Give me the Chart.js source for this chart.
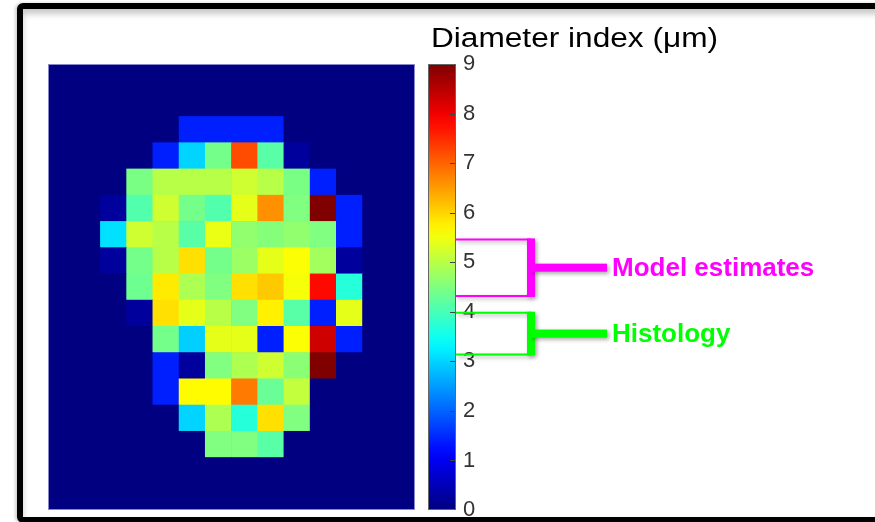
<!DOCTYPE html>
<html>
<head>
<meta charset="utf-8">
<title>Diameter index map</title>
<script src="https://cdn.jsdelivr.net/npm/chart.js@4.4.0/dist/chart.umd.min.js"></script>
<style>
  html, body { margin: 0; padding: 0; background: #fff; }
  #stage { position: relative; width: 875px; height: 522px; overflow: hidden; background: #fff; }
  #mapBox { position: absolute; left: 48px; top: 64px; width: 367px; height: 446px; }
  #barBox { position: absolute; left: 0; top: 0; width: 875px; height: 522px; }
  #frame {
    position: absolute; left: 17px; top: 3px; width: 880px; height: 520px;
    box-sizing: border-box; border: 6px solid #000; border-radius: 6px;
    box-shadow: inset 0 5px 6px rgba(0, 0, 0, 0.22), -2px 0 3px rgba(0, 0, 0, 0.18);
    pointer-events: none;
  }
</style>
</head>
<body>
<div id="stage">
  <div id="mapBox"><canvas id="mapChart"></canvas></div>
  <div id="barBox"><canvas id="barChart"></canvas></div>
  <div id="frame"></div>
</div>
<script>
const COLOR_MIN = 0;
const COLOR_MAX = 9;
const colorbarTicks = [0, 1, 2, 3, 4, 5, 6, 7, 8, 9];
const colorbarTitle = 'Diameter index (μm)';

const columnLabels = ['1', '2', '3', '4', '5', '6', '7', '8', '9', '10', '11', '12', '13', '14'];

// diameter index per pixel, top row first
const diameterRows = [
  [0, 0, 0, 0, 0, 0, 0, 0, 0, 0, 0, 0, 0, 0],
  [0, 0, 0, 0, 0, 0, 0, 0, 0, 0, 0, 0, 0, 0],
  [0, 0, 0, 0, 0, 1.4, 1.4, 1.4, 1.4, 0, 0, 0, 0, 0],
  [0, 0, 0, 0, 1.4, 3.0, 4.4, 7.2, 4.15, 0.25, 0, 0, 0, 0],
  [0, 0, 0, 4.45, 5.0, 5.0, 5.0, 5.2, 5.0, 4.45, 1.4, 0, 0, 0],
  [0, 0, 0.25, 4.1, 5.2, 4.4, 4.1, 5.4, 6.6, 4.5, 9.0, 1.4, 0, 0],
  [0, 0, 3.1, 5.2, 5.0, 4.15, 5.45, 4.65, 4.55, 4.65, 4.5, 1.4, 0, 0],
  [0, 0, 0.25, 4.4, 5.0, 5.9, 4.4, 4.75, 5.4, 5.6, 4.8, 0.25, 0, 0],
  [0, 0, 0, 4.35, 5.8, 4.9, 4.5, 5.9, 6.1, 5.55, 7.8, 3.7, 0, 0],
  [0, 0, 0, 0.25, 5.9, 5.4, 5.0, 4.5, 5.75, 4.15, 1.4, 5.4, 0, 0],
  [0, 0, 0, 0, 4.4, 2.95, 5.4, 5.4, 1.4, 5.6, 8.3, 1.4, 0, 0],
  [0, 0, 0, 0, 1.4, 0.25, 4.5, 4.9, 5.2, 4.6, 9.0, 0, 0, 0],
  [0, 0, 0, 0, 1.4, 5.65, 5.65, 6.8, 4.3, 5.1, 0, 0, 0, 0],
  [0, 0, 0, 0, 0, 3.0, 4.9, 3.7, 5.9, 4.5, 0, 0, 0, 0],
  [0, 0, 0, 0, 0, 0, 4.5, 4.5, 4.15, 0, 0, 0, 0, 0],
  [0, 0, 0, 0, 0, 0, 0, 0, 0, 0, 0, 0, 0, 0],
  [0, 0, 0, 0, 0, 0, 0, 0, 0, 0, 0, 0, 0, 0],
];

const bracketLabels = ['Model estimates', 'Histology'];
const bracketRanges = [[4.32, 5.46], [3.14, 3.98]];
const bracketColors = ['#ff00ff', '#00ff00'];

function jet(value) {
  const t = Math.min(1, Math.max(0, (value - COLOR_MIN) / (COLOR_MAX - COLOR_MIN)));
  const channel = center => Math.round(255 * Math.min(1, Math.max(0, 1.5 - Math.abs(4 * t - center))));
  return `rgb(${channel(3)}, ${channel(2)}, ${channel(1)})`;
}

const mapFrame = {
  id: 'mapFrame',
  beforeDatasetsDraw(chart) {
    const { ctx, chartArea: a } = chart;
    ctx.save();
    ctx.fillStyle = jet(COLOR_MIN);
    ctx.fillRect(a.left, a.top, a.width, a.height);
    ctx.restore();
  },
  afterDraw(chart) {
    const { ctx, chartArea: a } = chart;
    ctx.save();
    ctx.strokeStyle = 'rgba(150, 150, 215, 0.9)';
    ctx.lineWidth = 1;
    ctx.strokeRect(a.left + 0.5, a.top + 0.5, a.width - 1, a.height - 1);
    ctx.restore();
  },
};

const colorbarDecor = {
  id: 'colorbarDecor',
  afterDatasetsDraw(chart) {
    const { ctx, chartArea: a, scales } = chart;
    const y = scales.y;
    ctx.save();

    // inner tick marks on the right edge
    ctx.strokeStyle = '#444';
    ctx.lineWidth = 1;
    colorbarTicks.forEach(v => {
      if (v === COLOR_MIN || v === COLOR_MAX) return;
      const py = Math.round(y.getPixelForValue(v)) + 0.5;
      ctx.beginPath();
      ctx.moveTo(a.right - 6, py);
      ctx.lineTo(a.right, py);
      ctx.stroke();
    });

    ctx.strokeStyle = '#666';
    ctx.strokeRect(a.left + 0.5, a.top + 0.5, a.width - 1, a.height - 1);

    // title
    ctx.fillStyle = '#000';
    ctx.font = '27px "Liberation Sans", Arial, sans-serif';
    ctx.textBaseline = 'alphabetic';
    ctx.textAlign = 'left';
    const w = ctx.measureText(colorbarTitle).width;
    ctx.translate(a.left + 3, a.top - 17);
    ctx.scale(287 / w, 1);
    ctx.fillText(colorbarTitle, 0, 0);
    ctx.restore();

    // brackets
    bracketLabels.forEach((label, i) => {
      const [lo, hi] = bracketRanges[i];
      const yTop = y.getPixelForValue(hi);
      const yBot = y.getPixelForValue(lo);
      const mid = (yTop + yBot) / 2;
      const color = bracketColors[i];
      ctx.save();
      ctx.shadowColor = 'rgba(0, 0, 0, 0.35)';
      ctx.shadowBlur = 4;
      ctx.shadowOffsetX = 2;
      ctx.shadowOffsetY = 2;
      ctx.strokeStyle = color;
      ctx.fillStyle = color;
      ctx.lineWidth = 2;
      ctx.beginPath();
      ctx.moveTo(a.right, yTop);
      ctx.lineTo(a.right + 75, yTop);
      ctx.moveTo(a.right, yBot);
      ctx.lineTo(a.right + 75, yBot);
      ctx.stroke();
      ctx.fillRect(a.right + 71, yTop - 1, 8, yBot - yTop + 2);
      ctx.fillRect(a.right + 75, mid - 4, 76, 8);
      ctx.restore();

      ctx.save();
      ctx.fillStyle = color;
      ctx.font = 'bold 26px "Liberation Sans", Arial, sans-serif';
      ctx.textBaseline = 'middle';
      ctx.textAlign = 'left';
      ctx.fillText(label, a.right + 156, mid + 1);
      ctx.restore();
    });
  },
};

function renderMap() {
  const datasets = diameterRows.slice().reverse().map(row => ({
    data: row.map(() => 1),
    backgroundColor: row.map(jet),
    borderWidth: 0,
    barPercentage: 1,
    categoryPercentage: 1,
  }));

  new Chart(document.getElementById('mapChart'), {
    type: 'bar',
    data: { labels: columnLabels, datasets },
    options: {
      responsive: true,
      maintainAspectRatio: false,
      animation: false,
      layout: { padding: 0 },
      plugins: { legend: { display: false }, tooltip: { enabled: false } },
      scales: {
        x: { stacked: true, display: false },
        y: { stacked: true, display: false, min: 0, max: diameterRows.length },
      },
    },
    plugins: [mapFrame],
  });
}

function renderColorbar() {
  new Chart(document.getElementById('barChart'), {
    type: 'bar',
    data: {
      labels: ['colorbar'],
      datasets: [{
        data: [[COLOR_MIN, COLOR_MAX]],
        barPercentage: 1,
        categoryPercentage: 1,
        borderWidth: 0,
        backgroundColor: context => {
          const chart = context.chart;
          if (!chart.chartArea) return jet(COLOR_MIN);
          const y = chart.scales.y;
          const g = chart.ctx.createLinearGradient(0, y.getPixelForValue(COLOR_MIN), 0, y.getPixelForValue(COLOR_MAX));
          for (let s = 0; s <= 36; s++) {
            const v = COLOR_MIN + (COLOR_MAX - COLOR_MIN) * s / 36;
            g.addColorStop(s / 36, jet(v));
          }
          return g;
        },
      }],
    },
    options: {
      responsive: true,
      maintainAspectRatio: false,
      animation: false,
      layout: { padding: { left: 428, right: 379, top: 64, bottom: 12 } },
      plugins: { legend: { display: false }, tooltip: { enabled: false } },
      scales: {
        x: { display: false },
        y: {
          position: 'right',
          min: COLOR_MIN,
          max: COLOR_MAX,
          afterFit: scale => {
            scale.width = 40;
            scale.paddingTop = 0;
            scale.paddingBottom = 0;
          },
          afterBuildTicks: scale => { scale.ticks = colorbarTicks.map(value => ({ value })); },
          grid: { display: false, drawTicks: false },
          border: { display: false },
          ticks: {
            padding: 7,
            color: '#333',
            font: { family: '"Liberation Sans", Arial, sans-serif', size: 22 },
          },
        },
      },
    },
    plugins: [colorbarDecor],
  });
}

renderMap();
renderColorbar();
</script>
</body>
</html>
